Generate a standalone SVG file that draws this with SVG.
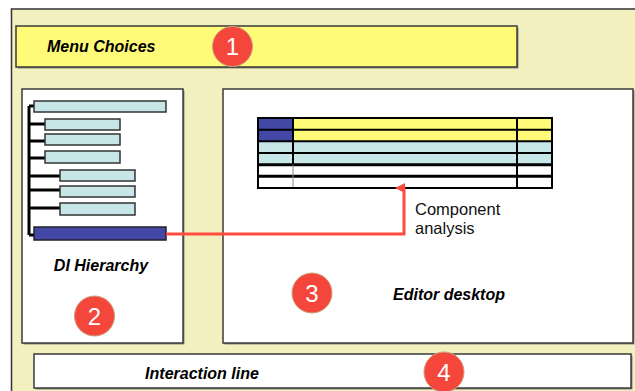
<svg xmlns="http://www.w3.org/2000/svg" width="635" height="391" viewBox="0 0 635 391">
  <defs>
    <style>
      .panel { stroke: #3a3a3a; stroke-width: 1.5; }
      .shadow { fill: #8a8a80; }
      .lbl { font-family: "Liberation Sans", Arial, sans-serif; font-size: 16px; font-weight: bold; font-style: italic; fill: #000; }
      .note { font-family: "Liberation Sans", Arial, sans-serif; font-size: 16.5px; fill: #111; }
      .badge circle { fill: #f5463c; stroke: #c9a27a; stroke-width: 1; }
      .badge text { font-family: "Liberation Sans", Arial, sans-serif; font-size: 24px; fill: #fff; text-anchor: middle; }
      .item { fill: #c6e6e8; stroke: #333; stroke-width: 1.5; }
      .tree { stroke: #000; stroke-width: 3; fill: none; }
      .grid { stroke: #000; stroke-width: 2; fill: none; }
    </style>
    <marker id="arrowhead" markerWidth="10" markerHeight="10" refX="5" refY="9" orient="auto" markerUnits="userSpaceOnUse" viewBox="0 0 10 10">
      <path d="M0,10 L5,0 L10,10 Z" fill="#ff4b3e"/>
    </marker>
  </defs>

  <rect width="635" height="391" fill="#ffffff"/>

  <!-- application frame -->
  <g id="frame">
    <rect x="11.5" y="9" width="630" height="390" fill="#f2f0be" stroke="#333" stroke-width="1.5"/>
  </g>

  <!-- 1: menu bar -->
  <g id="menu">
    <rect class="shadow" x="17.5" y="27.5" width="501" height="41"/>
    <rect class="panel" x="16" y="26" width="501" height="41" fill="#fffb78"/>
    <text class="lbl" x="47" y="52">Menu Choices</text>
  </g>

  <!-- 2: DI hierarchy panel -->
  <g id="hierarchy">
    <rect class="shadow" x="23.5" y="90.5" width="161" height="254"/>
    <rect class="panel" x="22" y="89" width="161" height="254" fill="#ffffff"/>
    <path class="tree" d="M29,106 V235 M29,106 H35 M29,124 H46 M29,141 H46 M29,158 H46 M29,176 H61 M29,190 H61 M29,208 H61 M29,235 H35"/>
    <rect class="item" x="34" y="101" width="132" height="11"/>
    <rect class="item" x="45" y="119" width="75" height="11"/>
    <rect class="item" x="45" y="134" width="75" height="11"/>
    <rect class="item" x="45" y="151" width="75" height="12"/>
    <rect class="item" x="60" y="170" width="75" height="11"/>
    <rect class="item" x="60" y="186" width="75" height="11"/>
    <rect class="item" x="60" y="203" width="75" height="12"/>
    <rect x="34" y="227" width="132" height="13" fill="#4348a6" stroke="#222" stroke-width="1.5"/>
    <text class="lbl" x="101" y="271" text-anchor="middle">DI Hierarchy</text>
  </g>

  <!-- 3: editor desktop -->
  <g id="editor">
    <rect class="shadow" x="224.5" y="90.5" width="410" height="254"/>
    <rect class="panel" x="223" y="89" width="410" height="254" fill="#ffffff"/>
    <!-- component table -->
    <rect x="258" y="118" width="35" height="23.3" fill="#4348a6"/>
    <rect x="293" y="118" width="259" height="23.3" fill="#fffb78"/>
    <rect x="258" y="141.3" width="294" height="23.4" fill="#c6e6e8"/>
    <rect x="258" y="164.7" width="294" height="23.3" fill="#ffffff"/>
    <path class="grid" d="M258,129.7 H552 M258,141.3 H552 M258,153 H552 M517,118 V188 M293,118 V164.7"/>
    <path stroke="#000" stroke-width="3" d="M258,164.7 H552 M258,176.3 H552"/>
    <path stroke="#888" stroke-width="1" d="M293,164.7 V188"/>
    <rect class="grid" x="258" y="118" width="294" height="70"/>
    <text class="lbl" x="449" y="300" text-anchor="middle">Editor desktop</text>
    <text class="note" x="415" y="215">Component</text>
    <text class="note" x="415" y="234">analysis</text>
  </g>

  <!-- 4: interaction line -->
  <g id="interaction">
    <rect class="shadow" x="35.5" y="355.5" width="597" height="34"/>
    <rect class="panel" x="34" y="354" width="597" height="34" fill="#ffffff"/>
    <text class="lbl" x="202" y="379" text-anchor="middle">Interaction line</text>
  </g>

  <!-- connectors -->
  <g id="connectors">
    <path d="M166,234 H404 V188" fill="none" stroke="#ff4b3e" stroke-width="3" marker-end="url(#arrowhead)"/>
  </g>

  <!-- numbered badges -->
  <g id="badge1" class="badge"><circle cx="232.5" cy="46.5" r="20"/><text x="232.5" y="55">1</text></g>
  <g id="badge2" class="badge"><circle cx="94.5" cy="316" r="20"/><text x="94.5" y="324.5">2</text></g>
  <g id="badge3" class="badge"><circle cx="312" cy="293" r="20"/><text x="312" y="301.5">3</text></g>
  <g id="badge4" class="badge"><circle cx="444" cy="372" r="20"/><text x="444" y="380.5">4</text></g>
</svg>
